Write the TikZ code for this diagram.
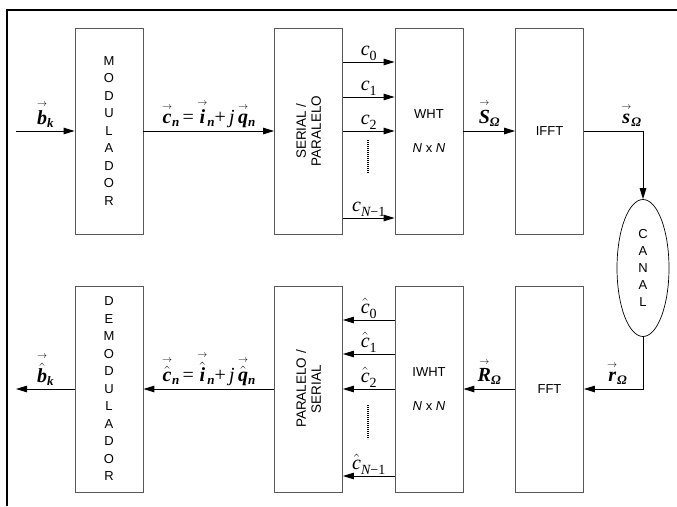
\documentclass[tikz,border=0pt]{standalone}
\usepackage{amsmath}
\usepackage{fontspec}
\setmainfont{Liberation Sans}
\newfontfamily\eqfont{Liberation Serif}
\usepackage{tikz}
\usetikzlibrary{arrows.meta, calc, positioning, shapes.geometric}

\newcommand{\eqbf}{\eqfont\bfseries\itshape}
\newcommand{\vsub}[1]{\raisebox{-0.3ex}{\eqbf\fontsize{13}{13}\selectfont #1}}
\newcommand{\vb}[2]{$\overset{\scriptscriptstyle\rightarrow}{\mbox{\eqbf #1}}$\vsub{#2}}
\newcommand{\vbh}[2]{$\overset{\scriptscriptstyle\rightarrow}{\hat{\mbox{\eqbf #1}}}$\vsub{#2}}
\newcommand{\csub}[1]{\raisebox{-0.5ex}{\eqfont\fontsize{14}{14}\selectfont #1}}
\newcommand{\csym}[1]{{\eqfont\itshape c}\csub{#1}}
\newcommand{\csymh}[1]{$\hat{\mbox{\eqfont\itshape c}}$\csub{#1}}

\begin{document}
\begin{tikzpicture}[x=1pt, y=-1pt, >={Triangle[length=11pt, width=6.5pt]},
  blk/.style={draw=black!65, line width=0.8pt, rectangle, minimum width=68pt, minimum height=206pt, inner sep=0pt, align=center, font=\fontsize{13}{17.5}\selectfont},
  conn/.style={->, line width=0.9pt},
  lbl/.style={font=\fontsize{20}{20}\selectfont, inner sep=1pt},
  dotsline/.style={line width=1.8pt, dash pattern=on 1.2pt off 0.8pt}]
  \useasboundingbox (0,0) rectangle (677,506);
  \draw[line width=2.5pt] (7,506) -- (7,10) -- (677,10);

  % transmisor
  \node[blk] (mod) at (109,131) {M\\O\\D\\U\\L\\A\\D\\O\\R};
  \node[blk] (sp) at (308.5,131) {};
  \node[rotate=90, align=center, font=\fontsize{13.5}{15}\selectfont] (sptxt) at (sp.center) {SERIAL /\\PARALELO};
  \node[blk] (wht) at (429,131) {WHT\\[16pt]\textit{N} x \textit{N}};
  \node[blk] (ifft) at (549.5,131) {IFFT};
  \node[draw, ellipse, line width=0.7pt, minimum width=52pt, minimum height=137pt, inner sep=0pt, align=center, font=\fontsize{13}{17}\selectfont] (canal) at (643,268) {C\\A\\N\\A\\L};

  % receptor
  \node[blk] (demod) at (109,389) {D\\E\\M\\O\\D\\U\\L\\A\\D\\O\\R};
  \node[blk] (ps) at (308.5,389) {};
  \node[rotate=90, align=center, font=\fontsize{13.5}{15}\selectfont] (pstxt) at (ps.center) {PARALELO /\\SERIAL};
  \node[blk] (iwht) at (429,389) {IWHT\\[16pt]\textit{N} x \textit{N}};
  \node[blk] (fft) at (549.5,389) {FFT};

  \coordinate (in) at (16,131);
  \coordinate (out) at (16,389);

  \draw[conn] (in) -- (mod.west) node[lbl, midway, above=2pt] {\vb{b}{k}};
  \draw[conn] (mod.east) -- (sp.west) node[lbl, midway, above=2pt] {\vb{c}{n}\,{\eqfont=}\,\vb{i}{n}{\eqfont+}\,{\eqfont\itshape j}\,\vb{q}{n}};
  \foreach \y/\s in {62/0, 97/1, 131/2, 218/{\itshape N\upshape −1}}
    \draw[conn] (sp.east |- 0,\y) -- (wht.west |- 0,\y) node[lbl, midway, above=0pt] {\csym{\s}};
  \draw[dotsline] (368,140) -- (368,173);
  \draw[conn] (wht.east) -- (ifft.west) node[lbl, midway, above=3pt] {\vb{S}{Ω}};
  \draw[conn] (ifft.east) -| (canal.north) node[lbl, pos=0.4, above=3pt] {\vb{s}{Ω}};

  \draw[conn] (canal.south) |- (fft.east) node[lbl, pos=0.72, above=3pt] {\vb{r}{Ω}};
  \draw[conn] (fft.west) -- (iwht.east) node[lbl, midway, above=3pt] {\vb{R}{Ω}};
  \foreach \y/\s in {320/0, 354/1, 389/2, 476/{\itshape N\upshape −1}}
    \draw[conn] (iwht.west |- 0,\y) -- (ps.east |- 0,\y) node[lbl, midway, above=0pt] {\csymh{\s}};
  \draw[dotsline] (368,405) -- (368,439);
  \draw[conn] (ps.west) -- (demod.east) node[lbl, midway, above=2pt] {\vbh{c}{n}\,{\eqfont=}\,\vbh{i}{n}{\eqfont+}\,{\eqfont\itshape j}\,\vbh{q}{n}};
  \draw[conn] (demod.west) -- (out) node[lbl, midway, above=2pt] {\vbh{b}{k}};
\end{tikzpicture}
\end{document}
